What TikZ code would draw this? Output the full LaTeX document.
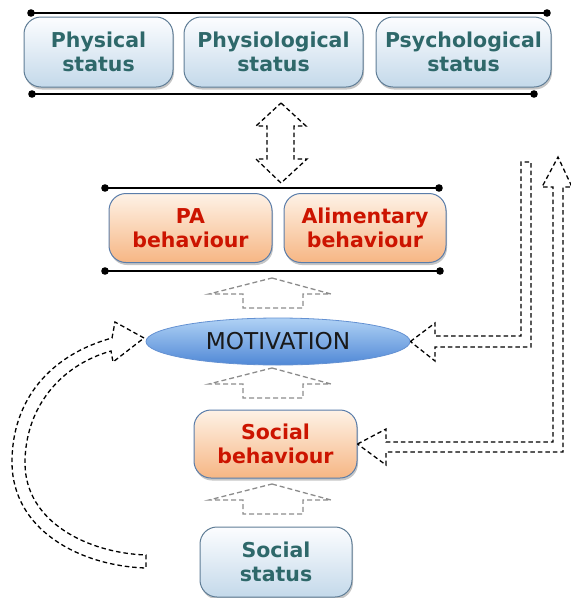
\documentclass[tikz,border=0pt]{standalone}
\usepackage{fontspec}
\setmainfont{DejaVu Sans}
\usetikzlibrary{shadows,calc,shapes.geometric}
\definecolor{txteal}{RGB}{46,104,106}
\definecolor{txred}{RGB}{204,20,0}
\definecolor{stTop}{RGB}{252,253,255}
\definecolor{stBot}{RGB}{196,217,234}
\definecolor{stBorder}{RGB}{95,125,150}
\definecolor{orTop}{RGB}{254,242,230}
\definecolor{orBot}{RGB}{246,182,132}
\definecolor{orBorder}{RGB}{90,125,170}
\definecolor{elTop}{RGB}{176,210,245}
\definecolor{elBot}{RGB}{80,136,214}
\definecolor{elBorder}{RGB}{100,145,210}
\tikzset{
  boxbase/.style={rounded corners=17pt, line width=1pt, inner sep=0pt, align=center,
    font=\fontsize{20.5}{24}\selectfont\bfseries,
    drop shadow={opacity=0.45, shadow xshift=1pt, shadow yshift=-2.5pt}},
  statusbox/.style={boxbase, draw=stBorder, top color=stTop, bottom color=stBot, text=txteal, minimum height=70pt},
  behavbox/.style={boxbase, draw=orBorder, top color=orTop, bottom color=orBot, text=txred, minimum height=69pt},
  dotline/.style={line width=2.2pt, black},
  dotend/.style={fill=black},
  blkarrow/.style={draw=black, line width=1.3pt, dash pattern=on 4.5pt off 3pt, line join=miter},
  grayarrow/.style={draw=black!45, line width=1.3pt, dash pattern=on 5pt off 3pt, line join=miter}
}
\begin{document}
\begin{tikzpicture}[x=1pt,y=-1pt]
\useasboundingbox (0,0) rectangle (571,598);

% top group
\node[statusbox, minimum width=149pt] (phys) at (98.5,52) {Physical\\status};
\node[statusbox, minimum width=179pt] (physio) at (273.5,52) {Physiological\\status};
\node[statusbox, minimum width=175pt] (psych) at (463.5,52) {Psychological\\status};
\coordinate (ta) at (31,13); \coordinate (tb) at (547,13);
\coordinate (tc) at (32,94); \coordinate (td) at (534,94);
\draw[dotline] (ta) -- (tb);
\draw[dotline] (tc) -- (td);
\foreach \p in {ta,tb,tc,td} \fill[dotend] (\p) circle (3.8pt);

% behaviour group
\node[behavbox, minimum width=163pt] (pa) at (190.5,228) {PA\\behaviour};
\node[behavbox, minimum width=162pt] (alim) at (365,228) {Alimentary\\behaviour};
\coordinate (ba) at (105,188); \coordinate (bb) at (439,188);
\coordinate (bc) at (105,271); \coordinate (bd) at (440,271);
\draw[dotline] (ba) -- (bb);
\draw[dotline] (bc) -- (bd);
\foreach \p in {ba,bb,bc,bd} \fill[dotend] (\p) circle (3.8pt);

% motivation
\node[ellipse, draw=elBorder, line width=0.8pt, top color=elTop, bottom color=elBot,
  minimum width=264pt, minimum height=47pt, inner sep=0pt,
  font=\fontsize{23.2}{26}\selectfont, text=black!90] (mot) at (278,341.5) {MOTIVATION};

% social
\node[behavbox, minimum width=163pt, minimum height=68pt] (sb) at (275.5,444) {Social\\behaviour};
\node[statusbox, minimum width=152pt] (ss) at (276,562) {Social\\status};

% double vertical arrow
\draw[blkarrow] (281,103) -- (306,126) -- (294,126) -- (294,159) -- (307,159) -- (281,183)
  -- (256,159) -- (267,159) -- (267,126) -- (256,126) -- cycle;

% gray up arrows
\foreach \t in {278,368,484}{
  \draw[grayarrow] (272,\t) -- (331,\t+16) -- (303,\t+16) -- (303,\t+30) -- (243,\t+30)
    -- (243,\t+16) -- (209,\t+16) -- cycle;
}

% right L arrow into motivation
\draw[blkarrow] (mot.east) -- (435,323) -- (435,336) -- (521,336) -- (521,162) -- (531,162)
  -- (531,347) -- (435,347) -- (435,361) -- cycle;

% right L arrow from social behaviour, up
\draw[blkarrow] (sb.east) -- (386,429) -- (386,442) -- (553,442) -- (553,187) -- (542,187)
  -- (558,157) -- (572,187) -- (563,187) -- (563,452) -- (386,452) -- (386,465) -- cycle;

% left curved arrow into motivation
\draw[blkarrow] (144,338) -- (115,322) -- (112,338)
  .. controls (50,355) and (12,400) .. (12,462)
  .. controls (12,530) and (80,566) .. (146,568)
  -- (146,555)
  .. controls (88,553) and (25,522) .. (25,463)
  .. controls (25,410) and (58,366) .. (111,351)
  -- (113,362) -- cycle;
\end{tikzpicture}
\end{document}
